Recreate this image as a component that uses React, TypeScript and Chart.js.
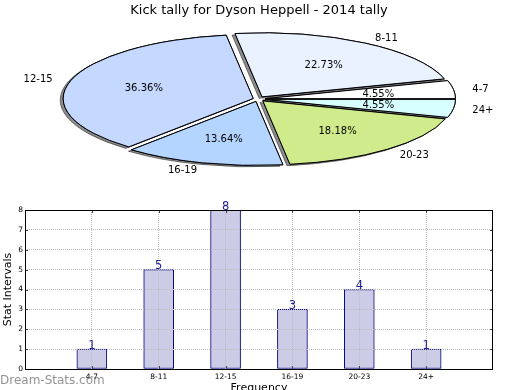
import React, { useEffect, useRef } from 'react';
import { Chart, registerables } from 'chart.js';

Chart.register(...registerables);

const chartTitle = 'Kick tally for Dyson Heppell - 2014 tally';
const categories = ['4-7', '8-11', '12-15', '16-19', '20-23', '24+'];
const kicks = [1, 5, 8, 3, 4, 1];
const pieColors = ['#ffffff', '#eaf1ff', '#c5d8ff', '#b3d5ff', '#d0eb8b', '#d8ffff'];
const explodePx = [7.5, 7.5, 5, 7.5, 7.5, 7.5];
const yTickValues = [0, 1, 2, 3, 4, 5, 6, 7, 8];
const yAxisTitle = 'Stat Intervals';
const xAxisTitle = 'Frequency';
const watermark = 'Dream-Stats.com';

const FONT = '"DejaVu Sans", Verdana, sans-serif';
const RX = 190;
const RY = 64;
const TEXT_DY = 1;
const TRANSPARENT = 'rgba(0,0,0,0)';
const GRID = '#bdbdbd';

const total = kicks.reduce((a, b) => a + b, 0);
const pieLabels = [...categories].reverse();
const pieData = [...kicks].reverse();
const pieBg = [...pieColors].reverse();

const piePlugin = {
  id: 'ellipsePie',
  beforeDatasetsDraw(chart: any) {
    const ctx: CanvasRenderingContext2D = chart.ctx;
    const meta = chart.getDatasetMeta(0);
    const arcs: any[] = meta.data;
    if (!arcs.length) return false;
    const n = arcs.length;
    const base = ctx.getTransform();
    const cx = arcs[0].x;
    const cy = arcs[0].y;
    const sy = RY / RX;
    const origStroke = Object.getPrototypeOf(ctx).stroke;
    (ctx as any).stroke = function (...a: any[]) {
      this.save();
      this.setTransform(base);
      origStroke.apply(this, a);
      this.restore();
    };
    const pass = (shadow: boolean) => {
      arcs.forEach((arc, j) => {
        const i = n - 1 - j;
        const mid = (arc.startAngle + arc.endAngle) / 2;
        ctx.save();
        ctx.translate(cx, cy);
        ctx.scale(1, sy);
        ctx.translate(-cx, -cy);
        ctx.translate(Math.cos(mid) * explodePx[i], Math.sin(mid) * explodePx[i]);
        if (shadow) {
          ctx.shadowColor = 'rgba(0,0,0,0.45)';
          ctx.shadowOffsetX = -3;
          ctx.shadowOffsetY = 1.5;
          ctx.shadowBlur = 0;
        }
        arc.draw(ctx);
        ctx.restore();
      });
    };
    pass(true);
    pass(false);
    delete (ctx as any).stroke;
    return false;
  },
  afterDraw(chart: any) {
    const ctx: CanvasRenderingContext2D = chart.ctx;
    const meta = chart.getDatasetMeta(0);
    const arcs: any[] = meta.data;
    const n = arcs.length;
    ctx.save();
    ctx.fillStyle = '#000';
    ctx.font = `13px ${FONT}`;
    ctx.textAlign = 'center';
    ctx.textBaseline = 'middle';
    ctx.fillText(chartTitle, 259, 10 + TEXT_DY);
    ctx.font = `10px ${FONT}`;
    arcs.forEach((arc, j) => {
      const i = n - 1 - j;
      const mid = (arc.startAngle + arc.endAngle) / 2;
      const e = explodePx[i] / RX;
      const c = Math.cos(mid);
      const s = Math.sin(mid);
      const lx = arc.x + (e + 1.1) * RX * c;
      const ly = arc.y + (e + 1.1) * RY * s + TEXT_DY;
      ctx.textAlign = c > 0 ? 'left' : 'right';
      ctx.fillText(categories[i], lx, ly);
      const px = arc.x + (e + 0.6) * RX * c;
      const py = arc.y + (e + 0.6) * RY * s + TEXT_DY;
      ctx.textAlign = 'center';
      ctx.fillText(((kicks[i] / total) * 100).toFixed(2) + '%', px, py);
    });
    ctx.restore();
  },
};

const barPlugin = {
  id: 'barExtras',
  afterDraw(chart: any) {
    const ctx: CanvasRenderingContext2D = chart.ctx;
    const { left, right, top, bottom } = chart.chartArea;
    const xs = chart.scales.x;
    const ys = chart.scales.y;
    ctx.save();
    // inward ticks
    ctx.strokeStyle = '#444';
    ctx.lineWidth = 1;
    ctx.beginPath();
    yTickValues.forEach((v) => {
      const y = Math.round(ys.getPixelForValue(v)) + 0.5;
      ctx.moveTo(left, y);
      ctx.lineTo(left + 3, y);
      ctx.moveTo(right, y);
      ctx.lineTo(right - 3, y);
    });
    categories.forEach((_, k) => {
      const x = Math.round(xs.getPixelForValue(k + 1)) + 0.5;
      ctx.moveTo(x, bottom);
      ctx.lineTo(x, bottom - 3);
      ctx.moveTo(x, top);
      ctx.lineTo(x, top + 3);
    });
    ctx.stroke();
    // frame
    ctx.strokeStyle = '#000';
    ctx.strokeRect(Math.round(left) + 0.5, Math.round(top) + 0.5, Math.round(right - left) - 1, Math.round(bottom - top));
    // value labels
    const meta = chart.getDatasetMeta(0);
    ctx.fillStyle = '#1a1a90';
    ctx.font = `11.5px ${FONT}`;
    ctx.textAlign = 'center';
    ctx.textBaseline = 'alphabetic';
    meta.data.forEach((bar: any, idx: number) => {
      const v = chart.data.datasets[0].data[idx];
      if (v === null || v === undefined) return;
      ctx.fillText(String(v), bar.x, bar.y - 0.5);
    });
    // watermark
    ctx.fillStyle = 'rgba(120,120,120,0.8)';
    ctx.font = `12px ${FONT}`;
    ctx.textAlign = 'left';
    ctx.fillText(watermark, 0, 184);
    ctx.restore();
  },
};

export default function App() {
  const pieRef = useRef<HTMLCanvasElement>(null);
  const barRef = useRef<HTMLCanvasElement>(null);

  useEffect(() => {
    const pie = new Chart(pieRef.current as HTMLCanvasElement, {
      type: 'pie',
      data: {
        labels: pieLabels,
        datasets: [
          {
            data: pieData,
            backgroundColor: pieBg,
            borderColor: '#000',
            borderWidth: 1,
            radius: RX,
            clip: false,
          } as any,
        ],
      },
      options: {
        animation: false,
        responsive: false,
        rotation: 90,
        layout: { padding: { left: 0, right: 4, top: 0, bottom: 2 } },
        plugins: { legend: { display: false }, tooltip: { enabled: false }, title: { display: false } },
        events: [],
      } as any,
      plugins: [piePlugin],
    });

    const bar = new Chart(barRef.current as HTMLCanvasElement, {
      type: 'bar',
      data: {
        labels: ['', ...categories, ''],
        datasets: [
          {
            data: [null, ...kicks, null],
            backgroundColor: '#ccccE6',
            borderColor: '#000080',
            borderWidth: 1,
            borderSkipped: false,
            barThickness: 30,
          } as any,
        ],
      },
      options: {
        animation: false,
        responsive: false,
        events: [],
        layout: { padding: { left: 0, right: 27, top: 10, bottom: 0 } },
        plugins: { legend: { display: false }, tooltip: { enabled: false } },
        scales: {
          x: {
            type: 'category',
            offset: false,
            grid: {
              offset: false,
              drawTicks: false,
              z: 1,
              lineWidth: 1,
              color: (c: any) => (c.index === 0 || c.index === categories.length + 1 ? TRANSPARENT : GRID),
            },
            border: { display: false, dash: [1, 1] },
            ticks: {
              padding: 4,
              color: '#000',
              autoSkip: false,
              maxRotation: 0,
              font: { family: FONT, size: 7.5 },
            },
            title: {
              display: true,
              text: xAxisTitle,
              color: '#000',
              font: { family: FONT, size: 11 },
              padding: { top: 0, bottom: -5 },
            },
            afterFit: (s: any) => {
              s.height = 21;
            },
          },
          y: {
            min: 0,
            max: 8,
            grid: {
              drawTicks: false,
              z: 1,
              lineWidth: 1,
              color: (c: any) => (c.tick && (c.tick.value === 0 || c.tick.value === 8) ? TRANSPARENT : GRID),
            },
            border: { display: false, dash: [1, 1] },
            ticks: {
              stepSize: 1,
              padding: 2,
              color: '#000',
              font: { family: FONT, size: 7.5 },
            },
            title: {
              display: true,
              text: yAxisTitle,
              color: '#000',
              font: { family: FONT, size: 11 },
              padding: { top: 2, bottom: 0 },
            },
            afterFit: (s: any) => {
              s.width = 25;
            },
          },
        },
      } as any,
      plugins: [barPlugin],
    });

    return () => {
      pie.destroy();
      bar.destroy();
    };
  }, []);

  return (
    <div style={{ position: 'absolute', left: 0, top: 0, width: 520, height: 390, background: '#fff', overflow: 'hidden' }}>
      <canvas ref={pieRef} width={520} height={200} style={{ position: 'absolute', left: 0, top: 0, display: 'block' }} />
      <canvas ref={barRef} width={520} height={190} style={{ position: 'absolute', left: 0, top: 200, display: 'block' }} />
    </div>
  );
}
